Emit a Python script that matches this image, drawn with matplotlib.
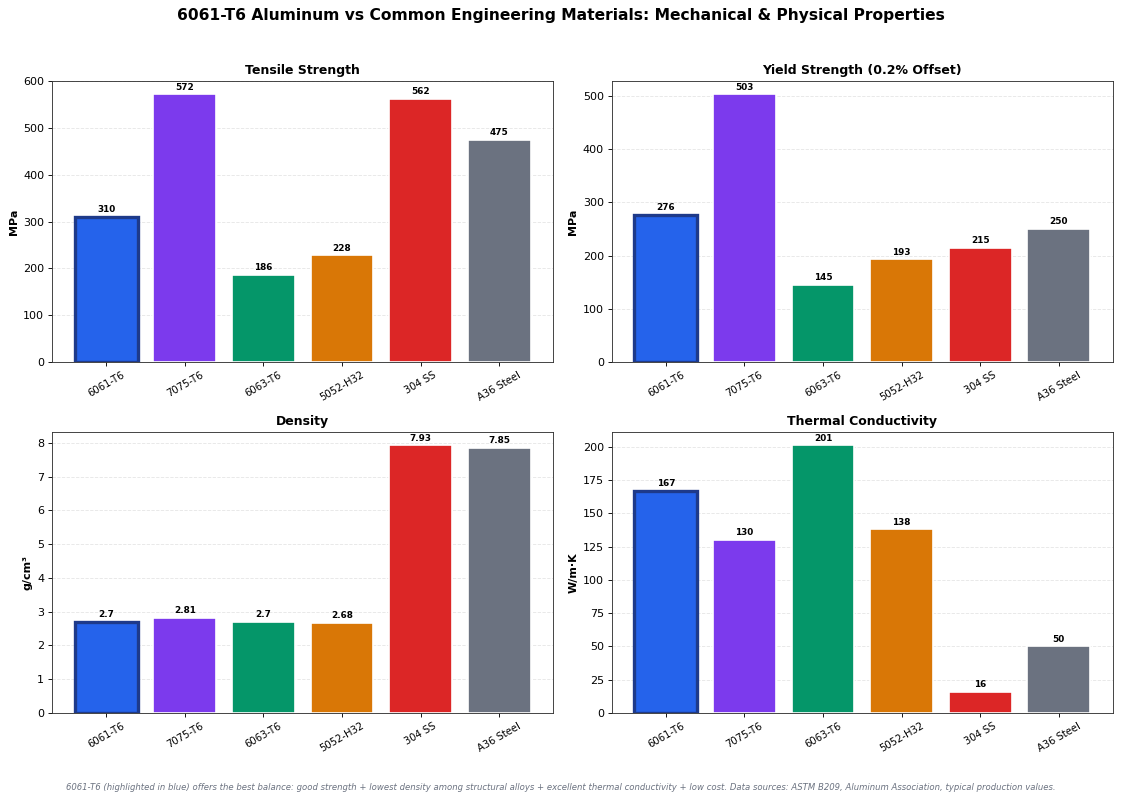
import matplotlib
matplotlib.use("Agg")
import matplotlib.pyplot as plt

materials = ["6061-T6", "7075-T6", "6063-T6", "5052-H32", "304 SS", "A36 Steel"]
tensile   = [310, 572, 186, 228, 562, 475]
yield_str = [276, 503, 145, 193, 215, 250]
density   = [2.70, 2.81, 2.70, 2.68, 7.93, 7.85]
thermal   = [167, 130, 201, 138, 16, 50]

colors = ["#2563eb", "#7c3aed", "#059669", "#d97706", "#dc2626", "#6b7280"]

panels = [
    ("Tensile Strength", tensile, "MPa"),
    ("Yield Strength (0.2% Offset)", yield_str, "MPa"),
    ("Density", density, "g/cm³"),
    ("Thermal Conductivity", thermal, "W/m·K"),
]

fig, axes = plt.subplots(2, 2, figsize=(14.0125, 10), dpi=80)
fig.subplots_adjust(left=0.0464, right=0.9929, top=0.8988, bottom=0.1088,
                    wspace=0.116, hspace=0.249)

for ax, (title, vals, unit) in zip(axes.flat, panels):
    bars = ax.bar(materials, vals, color=colors, edgecolor="white",
                  linewidth=1.5, width=0.8)
    # highlight 6061-T6
    bars[0].set_edgecolor("#1e3a8a")
    bars[0].set_linewidth(3)
    vmax = max(vals)
    for b, v in zip(bars, vals):
        ax.text(b.get_x() + b.get_width() / 2, v + vmax * 0.01, f"{v:g}",
                ha="center", va="bottom", fontsize=8, fontweight="bold")
    ax.set_ylim(0, vmax * 1.05)
    ax.set_title(title, fontsize=11.3, fontweight="bold")
    ax.set_ylabel(unit, fontsize=10, fontweight="bold")
    ax.tick_params(axis="x", labelsize=9, rotation=30)
    ax.tick_params(axis="y", labelsize=10)
    ax.grid(axis="y", linestyle="--", alpha=0.3)
    ax.set_axisbelow(True)
    for spine in ax.spines.values():
        spine.set_edgecolor("#333333")

fig.suptitle("6061-T6 Aluminum vs Common Engineering Materials: Mechanical & Physical Properties",
             fontsize=14, fontweight="bold", y=0.99)
fig.text(0.5, 0.012,
         "6061-T6 (highlighted in blue) offers the best balance: good strength + lowest density among "
         "structural alloys + excellent thermal conductivity + low cost. Data sources: ASTM B209, "
         "Aluminum Association, typical production values.",
         ha="center", fontsize=7.6, style="italic", color="#6b7280")

plt.savefig("out.png", dpi=80)
plt.close()
